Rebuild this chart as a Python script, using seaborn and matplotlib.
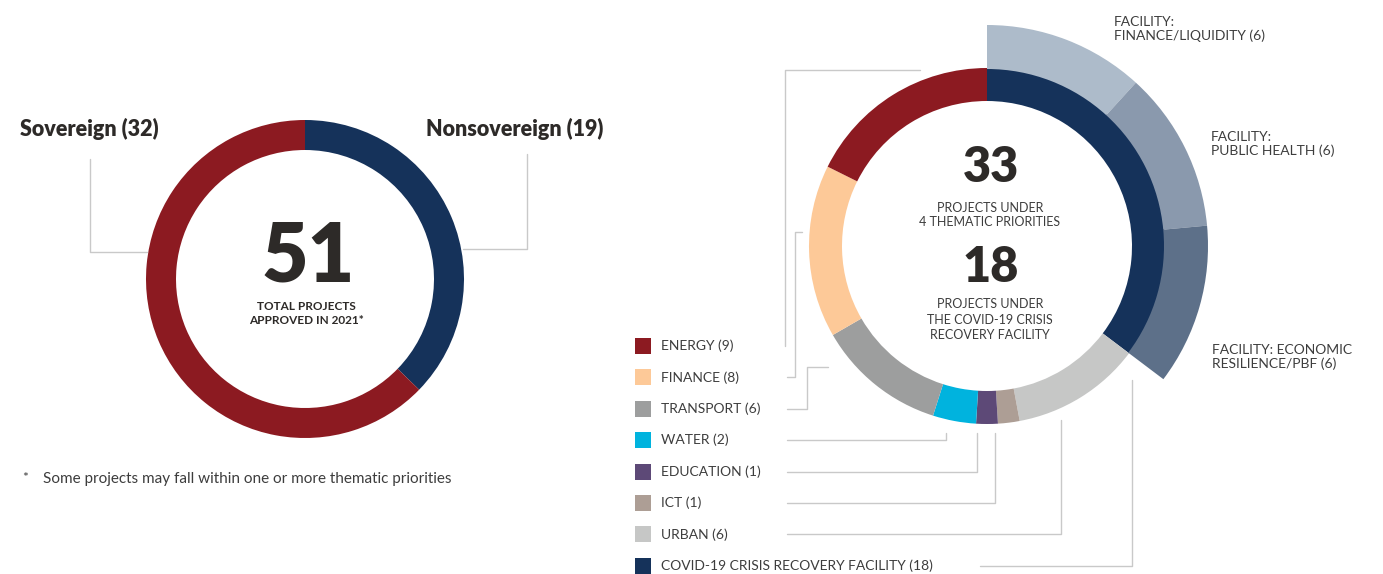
import matplotlib
matplotlib.use("Agg")
import matplotlib.pyplot as plt
import seaborn as sns

# left donut: operations by type (clockwise from 12 o'clock)
ops_labels = ['Nonsovereign', 'Sovereign']
ops_values = [19, 32]

# right donut: thematic priorities and the covid facility (clockwise from 12 o'clock)
theme_labels = ['COVID-19 CRISIS RECOVERY FACILITY', 'URBAN', 'ICT', 'EDUCATION',
                'WATER', 'TRANSPORT', 'FINANCE', 'ENERGY']
theme_values = [18, 6, 1, 1, 2, 6, 8, 9]

# outer ring: split of the covid facility
facility_labels = ['FACILITY:\nFINANCE/LIQUIDITY', 'FACILITY:\nPUBLIC HEALTH',
                   'FACILITY: ECONOMIC\nRESILIENCE/PBF']
facility_values = [6, 6, 6]

# legend order
legend_order = ['ENERGY', 'FINANCE', 'TRANSPORT', 'WATER', 'EDUCATION', 'ICT',
                'URBAN', 'COVID-19 CRISIS RECOVERY FACILITY']

# colours
ops_colors = {'Nonsovereign': '#15325A', 'Sovereign': '#8C1A21'}
theme_colors = {'ENERGY': '#8C1A21', 'FINANCE': '#FDC998', 'TRANSPORT': '#9D9E9E',
                'WATER': '#00B3DE', 'EDUCATION': '#5D4977', 'ICT': '#AD9E95',
                'URBAN': '#C6C7C6', 'COVID-19 CRISIS RECOVERY FACILITY': '#15325A'}
facility_colors = sns.color_palette(['#ADBBCA', '#8A99AD', '#5D7089'])

TEXT = '#2D2A28'
LABEL = '#3D3D3D'
LINE = '#C9C9C9'

# set the style
sns.set_theme(style="white")
plt.rcParams['font.family'] = ['Lato', 'DejaVu Sans']

W, H = 1383, 574
fig = plt.figure(figsize=(W / 100, H / 100), dpi=100)
ax = fig.add_axes([0, 0, 1, 1])

# axes in pixel units, y pointing down (so startangle=-90 + counterclock
# draws from 12 o'clock going clockwise on screen)
pie_kw = dict(startangle=-90, counterclock=True, frame=True)

# left donut
ax.pie(ops_values, colors=[ops_colors[k] for k in ops_labels], center=(305, 279),
       radius=159, wedgeprops=dict(width=30, linewidth=0), **pie_kw)

# right donut
ax.pie(theme_values, colors=[theme_colors[k] for k in theme_labels], center=(987, 246),
       radius=178, wedgeprops=dict(width=33, linewidth=0), **pie_kw)

# outer facility ring, padded with an invisible wedge for the rest of the circle
rest = sum(theme_values) - sum(facility_values)
ax.pie(facility_values + [rest], colors=list(facility_colors) + ['none'],
       center=(987, 246), radius=221, wedgeprops=dict(width=44, linewidth=0), **pie_kw)

ax.set_xlim(0, W)
ax.set_ylim(H, 0)
ax.axis('off')

# left donut texts
ax.text(20, 129, f'Sovereign ({ops_values[1]})', fontsize=15.5, fontweight='heavy',
        color=TEXT, ha='left', va='center')
ax.text(603, 129, f'Nonsovereign ({ops_values[0]})', fontsize=15.5, fontweight='heavy',
        color=TEXT, ha='right', va='center')
ax.text(308, 258, str(sum(ops_values)), fontsize=58, fontweight='heavy', color=TEXT,
        ha='center', va='center')
ax.text(306, 306, 'TOTAL PROJECTS', fontsize=8.5, fontweight='bold', color=TEXT,
        ha='center', va='center')
ax.text(306, 321, 'APPROVED IN 2021*', fontsize=8.5, fontweight='bold', color=TEXT,
        ha='center', va='center')
ax.plot([90, 90, 147], [159, 252, 252], color=LINE, lw=1)
ax.plot([527, 527, 463], [154, 249, 249], color=LINE, lw=1)

# footnote
ax.text(22, 478, '*', fontsize=10, color=LABEL, ha='left', va='center')
ax.text(43, 479, 'Some projects may fall within one or more thematic priorities',
        fontsize=11, color=LABEL, ha='left', va='center')

# right donut centre texts
n_facility = theme_values[0]
n_themes = sum(theme_values) - n_facility
ax.text(991, 167, str(n_themes), fontsize=35, fontweight='heavy', color=TEXT,
        ha='center', va='center')
ax.text(990, 208, 'PROJECTS UNDER', fontsize=9, color=LABEL, ha='center', va='center')
ax.text(990, 222, '4 THEMATIC PRIORITIES', fontsize=9, color=LABEL, ha='center', va='center')
ax.text(991, 268, str(n_facility), fontsize=35, fontweight='heavy', color=TEXT,
        ha='center', va='center')
ax.text(990, 304, 'PROJECTS UNDER', fontsize=9, color=LABEL, ha='center', va='center')
ax.text(990, 320, 'THE COVID-19 CRISIS', fontsize=9, color=LABEL, ha='center', va='center')
ax.text(990, 335, 'RECOVERY FACILITY', fontsize=9, color=LABEL, ha='center', va='center')

# facility labels
facility_pos = [(1114, 29), (1211, 144), (1212, 357)]
for lab, val, (x, y) in zip(facility_labels, facility_values, facility_pos):
    ax.text(x, y, f'{lab} ({val})', fontsize=10, color=LABEL, ha='left', va='center',
            linespacing=1.05)

# legend with squares
leg_y = [346 + i * 31.4 for i in range(len(legend_order))]
for name, y in zip(legend_order, leg_y):
    val = theme_values[theme_labels.index(name)]
    ax.scatter([643], [y], marker='s', s=130, color=theme_colors[name], linewidths=0)
    ax.text(661, y, f'{name} ({val})', fontsize=10, color=LABEL, ha='left', va='center')

# leader lines from legend to the ring
e, f, t, wa, ed, ic, u, c = leg_y
leaders = [
    ([920, 785, 785], [70, 70, e]),
    ([787, 795, 795, 802], [f, f, 232, 232]),
    ([787, 807, 807, 828], [t, t, 367, 367]),
    ([787, 946, 946], [wa, wa, 433]),
    ([787, 977, 977], [ed, ed, 433]),
    ([787, 995, 995], [ic, ic, 433]),
    ([787, 1061, 1061], [u, u, 420]),
    ([980, 1132, 1132], [c, c, 380]),
]
for xs, ys in leaders:
    ax.plot(xs, ys, color=LINE, lw=1)

plt.savefig('out.png', dpi=100)
plt.close(fig)
